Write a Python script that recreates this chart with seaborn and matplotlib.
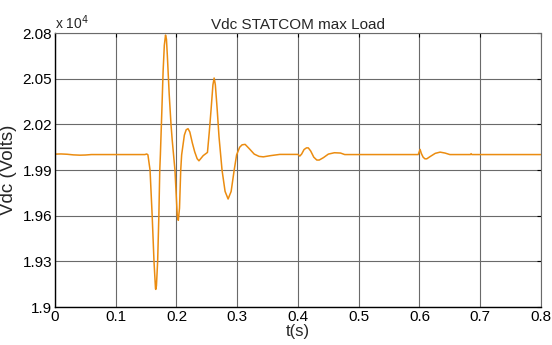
import numpy as np
import pandas as pd
import matplotlib
matplotlib.use("Agg")
import matplotlib.pyplot as plt
import seaborn as sns

# time (s) and Vdc (Volts)
t = [0.000, 0.010, 0.020, 0.030, 0.041, 0.050, 0.060, 0.100, 0.148, 0.151,
     0.153, 0.1565, 0.160, 0.163, 0.1655, 0.166, 0.167, 0.169, 0.171, 0.1725,
     0.1735, 0.176, 0.178, 0.180, 0.182, 0.1835, 0.185, 0.188, 0.191, 0.193,
     0.1975, 0.2013, 0.203, 0.205, 0.207, 0.2085, 0.213, 0.216, 0.219, 0.222,
     0.226, 0.230, 0.234, 0.237, 0.244, 0.251, 0.254, 0.257, 0.260, 0.262,
     0.264, 0.267, 0.270, 0.275, 0.280, 0.285, 0.290, 0.295, 0.299, 0.304,
     0.308, 0.313, 0.320, 0.328, 0.336, 0.343, 0.355, 0.370,
     0.400, 0.403, 0.406, 0.410, 0.414, 0.417, 0.421, 0.426, 0.431, 0.435,
     0.442, 0.450, 0.460, 0.470, 0.477, 0.500, 0.598, 0.601, 0.603, 0.606,
     0.609, 0.612, 0.618, 0.626, 0.634, 0.642, 0.650, 0.684, 0.685, 0.686,
     0.700, 0.800]
vdc = [20005, 20006, 20004, 20000, 19998, 19999, 20002, 20002, 20002, 20006,
       20000, 19900, 19600, 19300, 19120, 19116, 19140, 19300, 19600, 19900,
       20000, 20300, 20550, 20720, 20787, 20760, 20650, 20400, 20200, 20096,
       19900, 19600, 19570, 19650, 19900, 20000, 20130, 20165, 20172, 20150,
       20080, 20020, 19975, 19961, 19995, 20016, 20150, 20300, 20460, 20505,
       20460, 20300, 20120, 19900, 19760, 19710, 19760, 19900, 20000, 20050,
       20066, 20069, 20040, 20005, 19990, 19987, 19995, 20003,
       20003, 19992, 20005, 20035, 20046, 20046, 20025, 19985, 19966, 19966,
       19982, 20005, 20014, 20012, 20002, 20002, 20002, 20036, 20010, 19985,
       19974, 19974, 19990, 20010, 20018, 20012, 20002, 20002, 20008, 20002,
       20002, 20002]

df = pd.DataFrame({"t": t, "vdc": np.array(vdc) / 1e4})

sns.set_style("white")
plt.rcParams["font.family"] = ["Liberation Sans Narrow", "Liberation Sans", "DejaVu Sans"]

fig = plt.figure(figsize=(5.52, 3.45), dpi=100)
ax = fig.add_axes([0.0996, 0.110, 0.8804, 0.794])

sns.lineplot(data=df, x="t", y="vdc", ax=ax, color="#EB8C10", linewidth=1.1,
             estimator=None, sort=False)

ax.set_xlim(0, 0.8)
ax.set_ylim(1.9, 2.08)
ax.set_xticks(np.arange(0, 0.81, 0.1))
ax.set_xticklabels(["0", "0.1", "0.2", "0.3", "0.4", "0.5", "0.6", "0.7", "0.8"])
ax.set_yticks([1.9, 1.93, 1.96, 1.99, 2.02, 2.05, 2.08])
ax.set_yticklabels(["1.9", "1.93", "1.96", "1.99", "2.02", "2.05", "2.08"])
ax.grid(True, color="#6a6a6a", linewidth=0.8)
ax.tick_params(direction="in", length=3, width=0.8, labelsize=11, pad=2,
               top=True, right=True, colors="black")

for s in ["left", "bottom"]:
    ax.spines[s].set_color("black")
    ax.spines[s].set_linewidth(1.0)
for s in ["top", "right"]:
    ax.spines[s].set_color("#6a6a6a")
    ax.spines[s].set_linewidth(0.8)

ax.set_title("Vdc STATCOM max Load", fontsize=11, pad=3)
ax.set_xlabel("t(s)", fontsize=12, labelpad=0)
ax.set_ylabel("Vdc (Volts)", fontsize=13.5, family=["Liberation Sans", "DejaVu Sans"], labelpad=4)
ax.text(0.0, 1.005, "x 10$^4$", transform=ax.transAxes, fontsize=10, ha="left", va="bottom")

fig.savefig("out.png", dpi=100)
